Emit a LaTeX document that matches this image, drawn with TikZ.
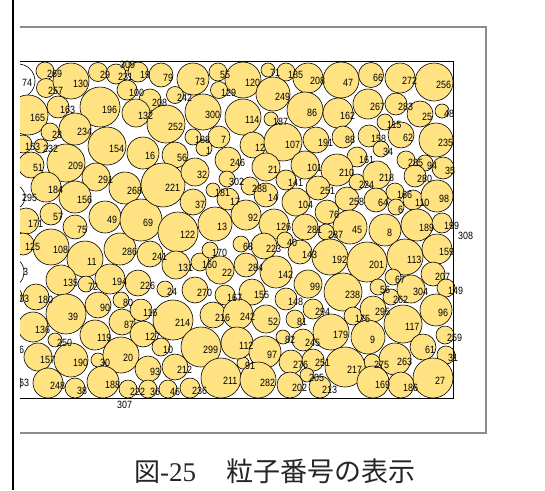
\documentclass[tikz,border=0pt]{standalone}
\usepackage{fontspec}
\newfontfamily\numfont[FakeStretch=0.85]{Liberation Sans}
\newfontfamily\jpfont{Noto Sans CJK JP}
\newfontfamily\serfont{Liberation Serif}
\definecolor{pfill}{RGB}{255,226,130}
\definecolor{framegray}{RGB}{140,140,140}
\tikzset{
  particle/.style={fill=pfill, draw=black, line width=0.6pt},
  wparticle/.style={fill=white, draw=black, line width=0.6pt},
  lab/.style={anchor=west, inner sep=0pt, font=\numfont\fontsize{10.5}{10.5}\selectfont, text=black},
  boxline/.style={draw=black, line width=0.6pt},
  frameline/.style={draw=framegray, line width=1.2pt},
  captext/.style={inner sep=0pt, anchor=base west, text=black!85}
}
\begin{document}
\begin{tikzpicture}[x=1pt,y=-1pt]
\useasboundingbox (0,0) rectangle (545,490);
\fill[white] (0,0) rectangle (545,490);
% outer frame
\draw[black, line width=1.2pt] (13,0) -- (13,490);
% inner frame
\draw[frameline] (20,27) -- (486,27) -- (486,433) -- (20,433);
\begin{scope}
\clip (20,27) rectangle (486,432);
\foreach \t/\x/\y/\r/\lx/\ly in {74/18/81/17/22/83, 295/12/197/13/22/198, 3/8/272/16/23/272, 6/5/350/15/19/350, 63/6/383/15/19/383}
  {\path[wparticle] (\x,\y) circle[radius=\r pt];}
\foreach \t/\x/\y/\r in {
269/45/71/9, 257/46/88/9.5, 130/71/81/18, 29/98/72/9.5, 309/127/66/5, 231/116/74/10, 19/138/72/10, 100/127/90/10,
79/161/75/12, 73/193/79/16, 55/218/72/9, 120/243/80/18, 129/219/90/8.5, 208/150/100/11, 242/175/95/8.5, 196/100/107/20,
163/58/107/11, 165/28/115/20, 234/75/129/16, 23/50/132/9, 153/23/144/9, 232/41/146/7, 132/136/113/14, 154/107/146/19,
252/166/124/19, 300/203/112/18, 188/193/137/8, 7/219/137/11, 1/204/148/8, 114/243/117/18, 12/253/145/13, 71/268/70/7,
16/143/153/16, 56/175/155/13, 91/243/363/6,
185/286/72/9, 208/308/78/15, 47/341/80/18, 249/273/94/17, 86/305/110/18, 162/338/113/15, 187/271/119/7, 107/283/142/19,
191/316/140/13, 88/343/137/11, 66/371/75/12.5, 272/400/78/15, 256/434/82/19, 267/368/104/15, 283/396/104/11, 25/420/114/13,
48/442/111/7, 115/385/122/8, 62/401/135/13, 158/369/136/11, 235/436/140/17, 34/381/149/8, 161/357/157/10, 209/66/163/19,
51/31/165/13, 291/96/177/14, 268/125/188/16, 184/46/187/15, 156/75/197/16, 57/51/214/11, 171/26/221/13, 75/75/227/12,
49/105/217/16, 125/23/244/11, 108/51/247/18, 11/85/259/18, 286/120/249/16, 69/141/220/21, 135/61/280/15, 72/86/284/8,
194/110/279/15, 226/138/283/13, 24/165/289/8, 221/163/185/22, 32/195/172/14, 246/228/160/13, 302/227/179/8, 181/213/190/7,
17/228/199/11, 37/193/202/13, 122/178/232/20, 13/215/224/17, 241/150/254/13, 131/176/265/14, 160/200/262/9, 170/210/250/8,
22/220/270/14, 68/241/244/8, 92/246/215/15, 21/266/167/14, 288/250/186/9, 14/266/195/12, 141/286/180/10, 101/305/165/14,
210/337/170/16, 251/318/188/12, 104/296/202/14, 76/327/212/12, 258/347/199/12, 224/357/182/8, 218/377/175/14, 285/406/160/9,
94/425/163/8, 35/443/168/11, 280/415/176/11, 166/395/192/9, 110/413/200/10, 98/437/196/16, 64/376/200/12, 6/396/207/8,
8/385/230/16, 189/417/225/16, 45/350/227/17, 126/274/224/15, 281/305/227/13, 287/326/232/8, 199/442/223/10, 223/264/246/13,
40/285/240/8, 143/300/252/12, 192/330/257/18, 201/367/262/20, 113/405/257/18, 159/437/249/15, 207/433/274/12, 67/393/277/8,
284/246/265/12, 142/276/272/16, 99/308/284/14, 270/195/290/13, 167/225/295/10, 155/252/292/13, 148/286/299/11, 238/343/292/19,
56/378/287/8, 262/391/297/8, 304/411/289/14, 149/446/288/9, 103/12/296/10, 180/36/297/13, 39/66/314/20, 90/98/305/13,
80/121/300/8, 136/33/327/15, 87/122/322/13, 116/141/310/11, 214/173/320/20, 216/213/315/13, 242/238/314/15, 52/266/319/14,
81/295/319/9, 294/313/309/10, 179/331/332/18, 175/353/316/9, 295/373/309/13, 117/403/324/19, 96/436/310/16, 250/55/340/7,
119/95/335/15, 127/143/334/13, 10/161/347/9, 299/201/347/20, 112/237/343/16, 82/283/337/7, 245/303/340/11, 97/265/352/16,
157/38/357/14, 190/71/360/17, 30/98/360/7, 20/121/355/18, 259/445/335/9, 61/423/347/13, 31/446/355/9, 9/368/337/17,
263/395/359/16, 275/372/362/8, 93/148/369/13, 212/175/367/13, 276/291/362/12, 251/313/360/11, 217/345/367/20, 205/307/375/7,
211/221/378/20, 248/48/383/15, 38/75/388/10, 188/103/382/16, 222/128/389/9, 36/148/389/9, 46/168/389/9, 236/190/388/10,
282/258/380/18, 202/290/385/13, 213/320/387/11, 169/373/382/16, 186/401/385/13, 27/433/378/20}
  {\path[particle] (\x,\y) circle[radius=\r pt];}
% particle box
\draw[boxline] (20,61) -- (453,61) -- (453,398) -- (20,398);
% labels
\foreach \t/\x/\y/\r/\lx/\ly [count=\i] in {74/18/81/17/22/83, 295/12/197/13/22/198, 3/8/272/16/23/272, 6/5/350/15/19/350, 63/6/383/15/19/383}
  {\node[lab] (w\i) at (\lx,\ly) {\t};}
\foreach \t/\x/\y [count=\i] in {
269/45/71, 257/46/88, 130/71/81, 29/98/72, 309/118/62, 231/116/74, 19/138/72, 100/127/90,
79/161/75, 73/193/79, 55/218/72, 120/243/80, 129/219/90, 208/150/100, 242/175/95, 196/100/107,
163/58/107, 165/28/115, 234/75/129, 23/50/132, 153/23/144, 232/41/146, 132/136/113, 154/107/146,
252/166/124, 300/203/112, 188/193/137, 7/219/137, 1/204/148, 114/243/117, 12/253/145, 71/268/70,
16/143/153, 56/175/155, 91/243/363,
185/286/72, 208/308/78, 47/341/80, 249/273/94, 86/305/110, 162/338/113, 187/271/119, 107/283/142,
191/316/140, 88/343/137, 66/371/75, 272/400/78, 256/434/82, 267/368/104, 283/396/104, 25/420/114,
48/442/111, 115/385/122, 62/401/135, 158/369/136, 235/436/140, 34/381/149, 161/357/157, 209/66/163,
51/31/165, 291/96/177, 268/125/188, 184/46/187, 156/75/197, 57/51/214, 171/26/221, 75/75/227,
49/105/217, 125/23/244, 108/51/247, 11/85/259, 286/120/249, 69/141/220, 135/61/280, 72/86/284,
194/110/279, 226/138/283, 24/165/289, 221/163/185, 32/195/172, 246/228/160, 302/227/179, 181/213/190,
17/228/199, 37/193/202, 122/178/232, 13/215/224, 241/150/254, 131/176/265, 160/200/262, 170/210/250,
22/220/270, 68/241/244, 92/246/215, 21/266/167, 288/250/186, 14/266/195, 141/286/180, 101/305/165,
210/337/170, 251/318/188, 104/296/202, 76/327/212, 258/347/199, 224/357/182, 218/377/175, 285/406/160,
94/425/163, 35/443/168, 280/415/176, 166/395/192, 110/413/200, 98/437/196, 64/376/200, 6/396/207,
8/385/230, 189/417/225, 45/350/227, 126/274/224, 281/305/227, 287/326/232, 199/442/223, 223/264/246,
40/285/240, 143/300/252, 192/330/257, 201/367/262, 113/405/257, 159/437/249, 207/433/274, 67/393/277,
284/246/265, 142/276/272, 99/308/284, 270/195/290, 167/225/295, 155/252/292, 148/286/299, 238/343/292,
56/378/287, 262/391/297, 304/411/289, 149/446/288, 103/12/296, 180/36/297, 39/66/314, 90/98/305,
80/121/300, 136/33/327, 87/122/322, 116/141/310, 214/173/320, 216/213/315, 242/238/314, 52/266/319,
81/295/319, 294/313/309, 179/331/332, 175/353/316, 295/373/309, 117/403/324, 96/436/310, 250/55/340,
119/95/335, 127/143/334, 10/161/347, 299/201/347, 112/237/343, 82/283/337, 245/303/340, 97/265/352,
157/38/357, 190/71/360, 30/98/360, 20/121/355, 259/445/335, 61/423/347, 31/446/355, 9/368/337,
263/395/359, 275/372/362, 93/148/369, 212/175/367, 276/291/362, 251/313/360, 217/345/367, 205/307/375,
211/221/378, 248/48/383, 38/75/388, 188/103/382, 222/128/389, 36/148/389, 46/168/389, 236/190/388,
282/258/380, 202/290/385, 213/320/387, 169/373/382, 186/401/385, 27/433/378}
  {\path (\x,\y) ++(2,3) node[lab] (n\i) {\t};}
\node[lab] (n308) at (458,236) {308};
\node[lab] (n307) at (117,405) {307};
\end{scope}
% caption
\node[captext, font=\jpfont\fontsize{26}{26}\selectfont] (capa) at (134,481) {図};
\node[captext, font=\serfont\fontsize{27}{27}\selectfont] (capb) at (160,481) {-25};
\node[captext, font=\jpfont\fontsize{27}{27}\selectfont] (capc) at (226,481) {粒子番号の表示};
\end{tikzpicture}
\end{document}
